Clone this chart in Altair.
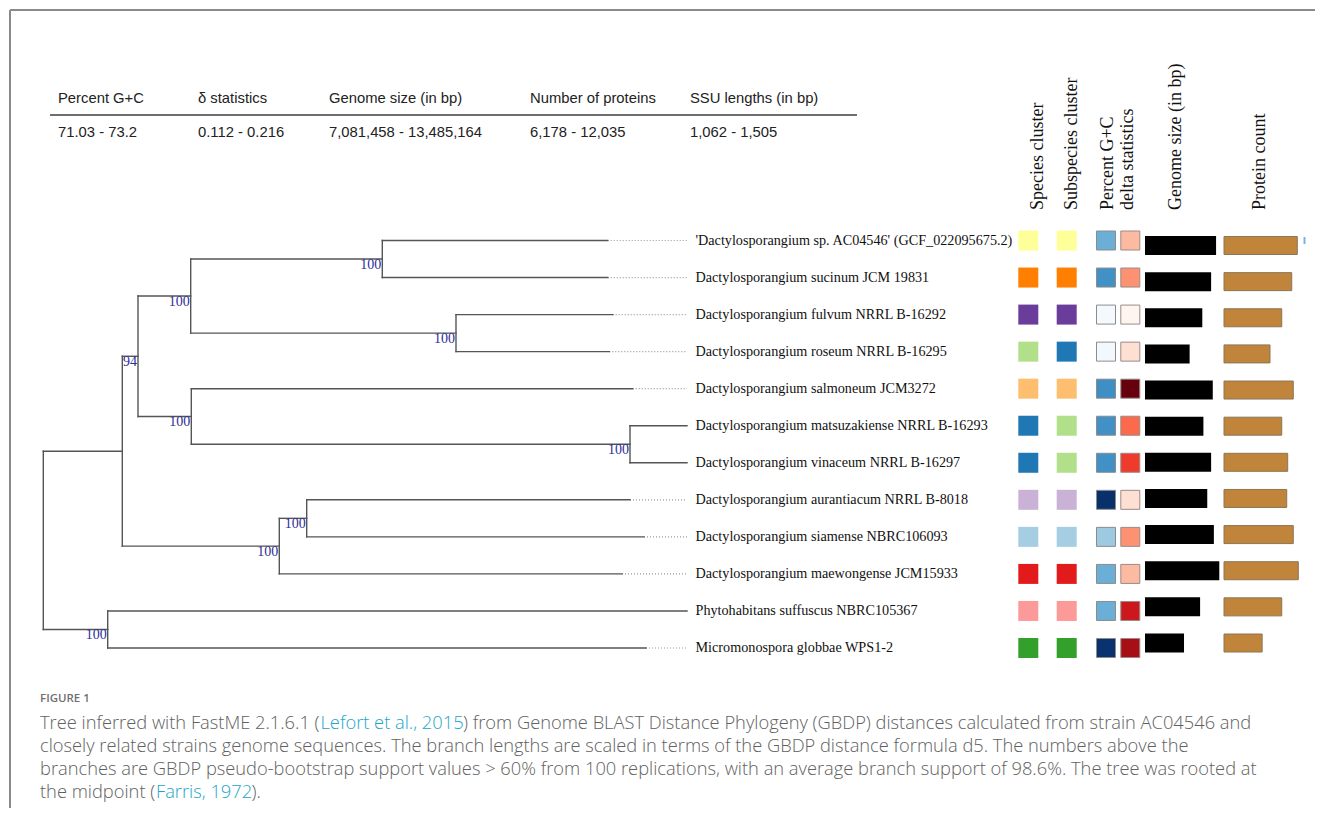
import altair as alt
import pandas as pd

# ---------------- data ----------------
taxa = [
    "'Dactylosporangium sp. AC04546' (GCF_022095675.2)",
    "Dactylosporangium sucinum JCM 19831",
    "Dactylosporangium fulvum NRRL B-16292",
    "Dactylosporangium roseum NRRL B-16295",
    "Dactylosporangium salmoneum JCM3272",
    "Dactylosporangium matsuzakiense NRRL B-16293",
    "Dactylosporangium vinaceum NRRL B-16297",
    "Dactylosporangium aurantiacum NRRL B-8018",
    "Dactylosporangium siamense NBRC106093",
    "Dactylosporangium maewongense JCM15933",
    "Phytohabitans suffuscus NBRC105367",
    "Micromonospora globbae WPS1-2",
]
# distance from root of each tip (GBDP d5 units, estimated)
leaf_depth = [0.5644, 0.5644, 0.5694, 0.5660, 0.5894, 0.6437,
              0.6437, 0.5867, 0.6007, 0.5787, 0.6437, 0.6027]
# internal nodes (children listed before parents)
node_names = ["n5", "n6", "n3", "n7", "n4", "n2", "n8", "n9", "n1", "n10", "root"]
node_depth = [0.3390, 0.4127, 0.1474, 0.5867, 0.1480, 0.0947, 0.2634, 0.2360, 0.0790, 0.0644, 0.0]
node_children = [[0, 1], [2, 3], ["n5", "n6"], [5, 6], [4, "n7"], ["n3", "n4"],
                 [7, 8], ["n8", 9], ["n2", "n9"], [10, 11], ["n1", "n10"]]
node_support = [100, 100, 100, 100, 100, 94, 100, 100, None, 100, None]

species_cluster = [1, 2, 3, 4, 5, 6, 6, 7, 8, 9, 10, 11]
subspecies_cluster = [1, 2, 3, 6, 5, 4, 4, 7, 8, 9, 10, 11]
gc_percent = [72.10, 72.38, 71.03, 71.05, 72.40, 72.38, 72.38, 73.20, 71.83, 72.10, 72.10, 73.18]
delta_stat = [0.138, 0.151, 0.112, 0.125, 0.216, 0.164, 0.177, 0.125, 0.151, 0.138, 0.190, 0.203]
genome_mbp = [12.90, 12.00, 10.40, 8.10, 12.30, 10.60, 12.00, 11.30, 12.50, 13.485, 10.00, 7.081]
protein_count = [11870, 10970, 9350, 7450, 11220, 9350, 10320, 10160, 11220, 12035, 9350, 6178]

table_headers = ["Percent G+C", "δ statistics", "Genome size (in bp)", "Number of proteins", "SSU lengths (in bp)"]
table_values = ["71.03 - 73.2", "0.112 - 0.216", "7,081,458 - 13,485,164", "6,178 - 12,035", "1,062 - 1,505"]
column_headers = ["Species cluster", "Subspecies cluster", "Percent G+C",
                  "delta statistics", "Genome size (in bp)", "Protein count"]

figure_label = "FIGURE 1"
caption_line1 = ["Tree inferred with FastME 2.1.6.1 (", "Lefort et al., 2015",
                 ") from Genome BLAST Distance Phylogeny (GBDP) distances calculated from strain AC04546 and"]
caption_line2 = "closely related strains genome sequences. The branch lengths are scaled in terms of the GBDP distance formula d5. The numbers above the"
caption_line3 = "branches are GBDP pseudo-bootstrap support values > 60% from 100 replications, with an average branch support of 98.6%. The tree was rooted at"
caption_line4 = ["the midpoint (", "Farris, 1972", ")."]

# ---------------- styles / layout ----------------
W, H = 1307, 800
OFF = 8


def P(v):
    return v - OFF


paired = ["#ffff99", "#ff7f00", "#6a3d9a", "#b2df8a", "#fdbf6f", "#1f78b4",
          "#cab2d6", "#a6cee3", "#e31a1c", "#fb9a99", "#33a02c"]
blues9 = ["#f7fbff", "#deebf7", "#c6dbef", "#9ecae1", "#6baed6", "#4292c6", "#2171b5", "#08519c", "#08306b"]
reds9 = ["#fff5f0", "#fee0d2", "#fcbba1", "#fc9272", "#fb6a4a", "#ef3b2c", "#cb181d", "#a50f15", "#67000d"]
gc_stops = [71.0 + i * 0.275 for i in range(9)]
delta_stops = [0.112 + i * 0.013 for i in range(9)]

XT = alt.Scale(domain=[0, 0.65], range=[P(43.3), P(43.3) + 650])
YT = alt.Scale(domain=[0, 11], range=[P(240.5), P(648)])

# ---------------- tree geometry from the data ----------------
pos = {i: (leaf_depth[i], float(i)) for i in range(len(taxa))}
segs = []
supports = []
for name, d, ch, sup in zip(node_names, node_depth, node_children, node_support):
    ys = [pos[c][1] for c in ch]
    y = sum(ys) / len(ys)
    pos[name] = (d, y)
    segs.append(dict(x=d, x2=d, y=min(ys), y2=max(ys)))
    for c in ch:
        segs.append(dict(x=d, x2=pos[c][0], y=pos[c][1], y2=pos[c][1]))
    if sup is not None:
        supports.append(dict(x=d, y=y, s=str(sup)))
seg_df = pd.DataFrame(segs)
sup_df = pd.DataFrame(supports)
tip_end = max(leaf_depth)
dots_df = pd.DataFrame([dict(x=leaf_depth[i], x2=tip_end, y=float(i))
                        for i in range(len(taxa)) if leaf_depth[i] < tip_end])
rows_df = pd.DataFrame({
    "row": list(range(len(taxa))), "taxon": taxa, "tip": [tip_end] * len(taxa),
    "species": species_cluster, "subspecies": subspecies_cluster,
    "gc": gc_percent, "delta": delta_stat, "genome": genome_mbp, "proteins": protein_count,
})

layers = []
one = pd.DataFrame({"k": [0]})

# frame
layers.append(alt.Chart(one).mark_rule(color="#8a8a8a", strokeWidth=2).encode(
    x=alt.value(2), x2=alt.value(W), y=alt.value(2)))
layers.append(alt.Chart(one).mark_rule(color="#8a8a8a", strokeWidth=2).encode(
    x=alt.value(2), y=alt.value(2), y2=alt.value(H)))

# summary table
table_x = [58, 198, 329, 530, 690]
for hx, hd, vl in zip(table_x, table_headers, table_values):
    layers.append(alt.Chart(pd.DataFrame({"t": [hd]})).mark_text(
        align="left", baseline="middle", font="Liberation Sans", fontSize=14.8, color="#222").encode(
        text="t:N", x=alt.value(P(hx)), y=alt.value(P(98.5))))
    layers.append(alt.Chart(pd.DataFrame({"t": [vl]})).mark_text(
        align="left", baseline="middle", font="Liberation Sans", fontSize=14.8, color="#222").encode(
        text="t:N", x=alt.value(P(hx)), y=alt.value(P(132.5))))
layers.append(alt.Chart(one).mark_rule(color="#6e6e6e", strokeWidth=2).encode(
    x=alt.value(P(50)), x2=alt.value(P(857)), y=alt.value(P(115))))

# rotated column headers
col_header_x = [1042.5, 1076.7, 1113.3, 1133.3, 1180.7, 1265]
for cx, ht in zip(col_header_x, column_headers):
    layers.append(alt.Chart(pd.DataFrame({"t": [ht]})).mark_text(
        angle=270, align="left", baseline="alphabetic", font="Liberation Serif",
        fontSize=18, color="#111").encode(
        text="t:N", x=alt.value(P(cx)), y=alt.value(P(210))))

# tree
layers.append(alt.Chart(dots_df).mark_rule(color="#9a9a9a", strokeWidth=1.2, strokeDash=[1, 2]).encode(
    x=alt.X("x:Q", scale=XT, axis=None), x2="x2:Q",
    y=alt.Y("y:Q", scale=YT, axis=None), y2="y2:Q"))
layers.append(alt.Chart(seg_df).mark_rule(color="#555555", strokeWidth=1.4, strokeCap="square").encode(
    x=alt.X("x:Q", scale=XT, axis=None), x2="x2:Q",
    y=alt.Y("y:Q", scale=YT, axis=None), y2="y2:Q"))
layers.append(alt.Chart(sup_df).mark_text(
    align="right", baseline="top", dx=-1, dy=-1, font="Liberation Serif", fontSize=14, color="#2e2e9a").encode(
    x=alt.X("x:Q", scale=XT, axis=None), y=alt.Y("y:Q", scale=YT, axis=None), text="s:N"))
layers.append(alt.Chart(rows_df).mark_text(
    align="left", baseline="middle", dx=8.5, font="Liberation Serif", fontSize=14.2, color="#111").encode(
    x=alt.X("tip:Q", scale=XT, axis=None), y=alt.Y("row:Q", scale=YT, axis=None), text="taxon:N"))

# coloured squares
cl_scale = alt.Scale(domain=list(range(1, 12)), range=paired)
layers.append(alt.Chart(rows_df).mark_square(size=400, opacity=1).encode(
    x=alt.value(P(1028.3)), y=alt.Y("row:Q", scale=YT, axis=None),
    color=alt.Color("species:N", scale=cl_scale, legend=None)))
layers.append(alt.Chart(rows_df).mark_square(size=400, opacity=1).encode(
    x=alt.value(P(1066.7)), y=alt.Y("row:Q", scale=YT, axis=None),
    color=alt.Color("subspecies:N", scale=cl_scale, legend=None)))
layers.append(alt.Chart(rows_df).mark_square(size=361, opacity=1, stroke="#8c8c8c", strokeWidth=1).encode(
    x=alt.value(P(1106)), y=alt.Y("row:Q", scale=YT, axis=None),
    color=alt.Color("gc:Q", scale=alt.Scale(domain=gc_stops, range=blues9), legend=None)))
layers.append(alt.Chart(rows_df).mark_square(size=361, opacity=1, stroke="#9a8a88", strokeWidth=1).encode(
    x=alt.value(P(1130.3)), y=alt.Y("row:Q", scale=YT, axis=None),
    color=alt.Color("delta:Q", scale=alt.Scale(domain=delta_stops, range=reds9), legend=None)))

# bars
layers.append(alt.Chart(rows_df).mark_bar(orient="horizontal", size=19, color="#000000").encode(
    x=alt.X("genome:Q", scale=alt.Scale(domain=[0, 13.485], range=[P(1145), P(1219.3)]), axis=None),
    x2=alt.datum(0),
    y=alt.Y("row:Q", scale=YT, axis=None)))
layers.append(alt.Chart(rows_df).mark_bar(orient="horizontal", size=18, color="#c0843a",
                                          stroke="#8a7658", strokeWidth=1).encode(
    x=alt.X("proteins:Q", scale=alt.Scale(domain=[0, 12035], range=[P(1224), P(1298.3)]), axis=None),
    x2=alt.datum(0),
    y=alt.Y("row:Q", scale=YT, axis=None)))
layers.append(alt.Chart(rows_df[rows_df["row"] == 0]).mark_tick(
    orient="vertical", size=7, thickness=2, color="#4a8fd6").encode(
    x=alt.value(P(1304.5)), y=alt.Y("row:Q", scale=YT, axis=None)))

# caption
CAP_FONT = "Open Sans"
CAP_COL = "#616161"
LINK_COL = "#22a6c7"
CAP_SIZE = 18.3


def cap(text, x, y, color=CAP_COL, size=CAP_SIZE, weight=300):
    return alt.Chart(pd.DataFrame({"t": [text]})).mark_text(
        align="left", baseline="middle", font=CAP_FONT, fontSize=size, fontWeight=weight, color=color).encode(
        text="t:N", x=alt.value(P(x)), y=alt.value(P(y)))


layers.append(cap(figure_label, 40, 699, color="#707070", size=11.5, weight=600))
layers.append(cap(caption_line1[0], 40, 724))
layers.append(cap(caption_line1[1], 320.5, 724, color=LINK_COL))
layers.append(cap(caption_line1[2], 463, 724))
layers.append(cap(caption_line2, 40, 747))
layers.append(cap(caption_line3, 40, 770))
layers.append(cap(caption_line4[0], 40, 793))
layers.append(cap(caption_line4[1], 156, 793, color=LINK_COL))
layers.append(cap(caption_line4[2], 251.5, 793))

chart = alt.layer(*layers).resolve_scale(
    x="independent", y="independent", color="independent"
).properties(
    width=W, height=H, autosize=alt.AutoSizeParams(type="none"), padding=0
).configure_view(stroke=None)

chart.save("out.html", embed_options={"renderer": "svg", "actions": False})
